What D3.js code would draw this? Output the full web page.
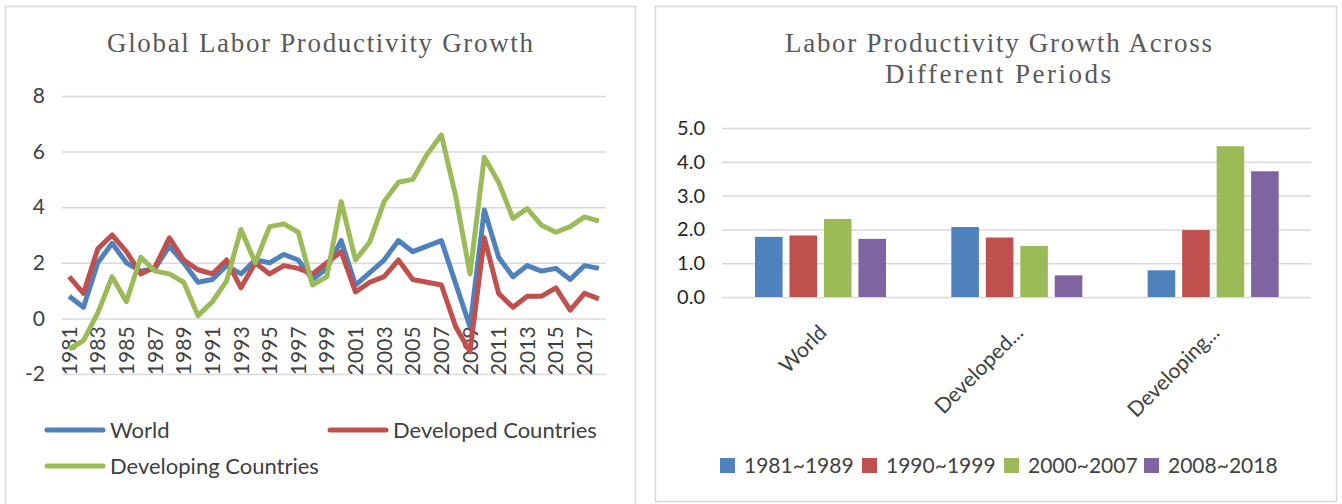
<!DOCTYPE html>
<html>
<head>
<meta charset="utf-8">
<script src="https://cdn.jsdelivr.net/npm/d3@7"></script>
<style>
  body { margin: 0; background: #fff; }
  svg { display: block; }
</style>
</head>
<body>
<script>
// left chart data (annual growth, %)
var years = [1981, 1982, 1983, 1984, 1985, 1986, 1987, 1988, 1989, 1990,
             1991, 1992, 1993, 1994, 1995, 1996, 1997, 1998, 1999, 2000,
             2001, 2002, 2003, 2004, 2005, 2006, 2007, 2008, 2009, 2010,
             2011, 2012, 2013, 2014, 2015, 2016, 2017, 2018];
var world = [0.8, 0.4, 2.0, 2.7, 2.0, 1.7, 1.8, 2.6, 2.0, 1.3,
             1.4, 1.9, 1.6, 2.1, 2.0, 2.3, 2.1, 1.4, 1.8, 2.8,
             1.2, 1.65, 2.1, 2.8, 2.4, 2.6, 2.8, 1.25, -0.3, 3.9,
             2.2, 1.5, 1.9, 1.7, 1.8, 1.4, 1.9, 1.8];
var developed = [1.5, 0.9, 2.5, 3.0, 2.4, 1.6, 1.85, 2.9, 2.1, 1.75,
                 1.6, 2.1, 1.1, 2.0, 1.6, 1.9, 1.8, 1.6, 2.0, 2.4,
                 0.95, 1.3, 1.5, 2.1, 1.4, 1.3, 1.2, -0.3, -1.2, 2.9,
                 0.9, 0.4, 0.8, 0.8, 1.1, 0.3, 0.9, 0.7];
var developing = [-1.1, -0.8, 0.2, 1.5, 0.6, 2.2, 1.7, 1.6, 1.3, 0.1,
                  0.6, 1.35, 3.2, 2.0, 3.3, 3.4, 3.1, 1.2, 1.5, 4.2,
                  2.1, 2.75, 4.2, 4.9, 5.0, 5.9, 6.6, 4.4, 1.6, 5.8,
                  4.9, 3.6, 3.95, 3.35, 3.1, 3.3, 3.65, 3.5];
var lineNames = ["World", "Developed Countries", "Developing Countries"];
var yTicksLeft = [-2, 0, 2, 4, 6, 8];

// right chart data (average growth by period, %)
var groups = ["World", "Developed...", "Developing..."];
var periods = ["1981~1989", "1990~1999", "2000~2007", "2008~2018"];
var p1981 = [1.78, 2.07, 0.79];
var p1990 = [1.82, 1.76, 1.98];
var p2000 = [2.31, 1.51, 4.46];
var p2008 = [1.72, 0.64, 3.72];
var yTicksRight = [0, 1, 2, 3, 4, 5];

var colors = ["#4f81bd", "#c0504d", "#9bbb59", "#8064a2"];
var labelFont = "Lato, 'Open Sans', sans-serif";
var titleFont = "'Liberation Serif', 'DejaVu Serif', serif";

var svg = d3.select("body").append("svg")
  .attr("width", 1342)
  .attr("height", 504);

// panel frames
svg.append("rect").attr("x", 5.5).attr("y", 6.5).attr("width", 630).attr("height", 505)
  .attr("fill", "#fff").attr("stroke", "#d9d9d9").attr("stroke-width", 1.5);
svg.append("rect").attr("x", 655.5).attr("y", 6.5).attr("width", 681).attr("height", 495)
  .attr("fill", "#fff").attr("stroke", "#d9d9d9").attr("stroke-width", 1.5);

// ---------- left: line chart ----------
var xL = d3.scaleBand().domain(years).range([62, 606]);
var yL = d3.scaleLinear().domain([-2, 8]).range([374, 96]);
var cx = function(d) { return xL(d) + xL.bandwidth() / 2; };

svg.append("text")
  .attr("x", 107).attr("y", 52)
  .attr("textLength", 426).attr("lengthAdjust", "spacing")
  .attr("font-family", titleFont).attr("font-size", 27).attr("fill", "#595959")
  .text("Global Labor Productivity Growth");

var gL = svg.append("g");
gL.append("g")
  .attr("transform", "translate(62,0)")
  .call(d3.axisLeft(yL).tickValues(yTicksLeft).tickSize(-544)
    .tickFormat(function(d) { return String(d); }))
  .call(function(g) {
    g.select(".domain").remove();
    g.selectAll(".tick line").attr("stroke", "#d9d9d9").attr("stroke-width", 1.5);
    g.selectAll(".tick text").attr("x", -17).attr("font-family", labelFont)
      .attr("font-size", 21).attr("fill", "#404040");
  });

// year labels sit next to the 0 line
gL.selectAll(".yr")
  .data(years.filter(function(d, i) { return i % 2 === 0; }))
  .enter().append("text")
  .attr("transform", function(d) { return "translate(" + cx(d) + "," + (yL(0) + 8) + ") rotate(-90)"; })
  .attr("dy", "0.36em")
  .attr("text-anchor", "end")
  .attr("font-family", labelFont).attr("font-size", 21).attr("fill", "#404040")
  .text(function(d) { return d; });

var line = d3.line()
  .x(function(d, i) { return cx(years[i]); })
  .y(function(d) { return yL(d); });

[world, developed, developing].forEach(function(s, k) {
  gL.append("path")
    .datum(s)
    .attr("d", line)
    .attr("fill", "none")
    .attr("stroke", colors[k])
    .attr("stroke-width", 5)
    .attr("stroke-linejoin", "round");
});

// left legend
var legL = [{x: 47, y: 430}, {x: 330, y: 430}, {x: 47, y: 466}];
lineNames.forEach(function(n, k) {
  svg.append("line")
    .attr("x1", legL[k].x).attr("x2", legL[k].x + 56)
    .attr("y1", legL[k].y).attr("y2", legL[k].y)
    .attr("stroke", colors[k]).attr("stroke-width", 5).attr("stroke-linecap", "round");
  svg.append("text")
    .attr("x", legL[k].x + 63).attr("y", legL[k].y).attr("dy", "0.35em")
    .attr("font-family", labelFont).attr("font-size", 22).attr("fill", "#404040")
    .text(n);
});

// ---------- right: grouped bars ----------
var x0 = d3.scaleBand().domain(groups).range([722, 1311]);
var x1 = d3.scaleBand().domain(periods).range([33, 164]).paddingInner(0.2);
var yR = d3.scaleLinear().domain([0, 5]).range([297, 128]);

var title2 = svg.append("text")
  .attr("font-family", titleFont).attr("font-size", 27).attr("fill", "#595959");
title2.append("tspan").attr("x", 785).attr("y", 52)
  .attr("textLength", 427).attr("lengthAdjust", "spacing")
  .text("Labor Productivity Growth Across");
title2.append("tspan").attr("x", 885).attr("y", 83)
  .attr("textLength", 226).attr("lengthAdjust", "spacing")
  .text("Different Periods");

svg.append("g")
  .attr("transform", "translate(722,0)")
  .call(d3.axisLeft(yR).tickValues(yTicksRight).tickSize(-589).tickFormat(d3.format(".1f")))
  .call(function(g) {
    g.select(".domain").remove();
    g.selectAll(".tick line").attr("stroke", "#d9d9d9").attr("stroke-width", 1.5);
    g.selectAll(".tick text").attr("x", -17).attr("font-family", labelFont)
      .attr("font-size", 20).attr("fill", "#262626");
  });

var series = [p1981, p1990, p2000, p2008];
var bars = svg.append("g");
series.forEach(function(s, k) {
  bars.selectAll(".b" + k)
    .data(s)
    .enter().append("rect")
    .attr("x", function(d, i) { return x0(groups[i]) + x1(periods[k]); })
    .attr("y", function(d) { return yR(d); })
    .attr("width", x1.bandwidth())
    .attr("height", function(d) { return yR(0) - yR(d); })
    .attr("fill", colors[k]);
});

svg.selectAll(".cat")
  .data(groups)
  .enter().append("text")
  .attr("transform", function(d) {
    return "translate(" + (x0(d) + x0.bandwidth() / 2 + 8) + ",334) rotate(-45)";
  })
  .attr("text-anchor", "end")
  .attr("font-family", labelFont).attr("font-size", 21).attr("fill", "#404040")
  .text(function(d) { return d; });

// right legend
var legR = [720, 862, 1004, 1144];
periods.forEach(function(p, k) {
  svg.append("rect")
    .attr("x", legR[k]).attr("y", 458).attr("width", 15).attr("height", 15)
    .attr("fill", colors[k]);
  svg.append("text")
    .attr("x", legR[k] + 24).attr("y", 466).attr("dy", "0.35em")
    .attr("font-family", labelFont).attr("font-size", 21).attr("fill", "#404040")
    .text(p);
});
</script>
</body>
</html>
